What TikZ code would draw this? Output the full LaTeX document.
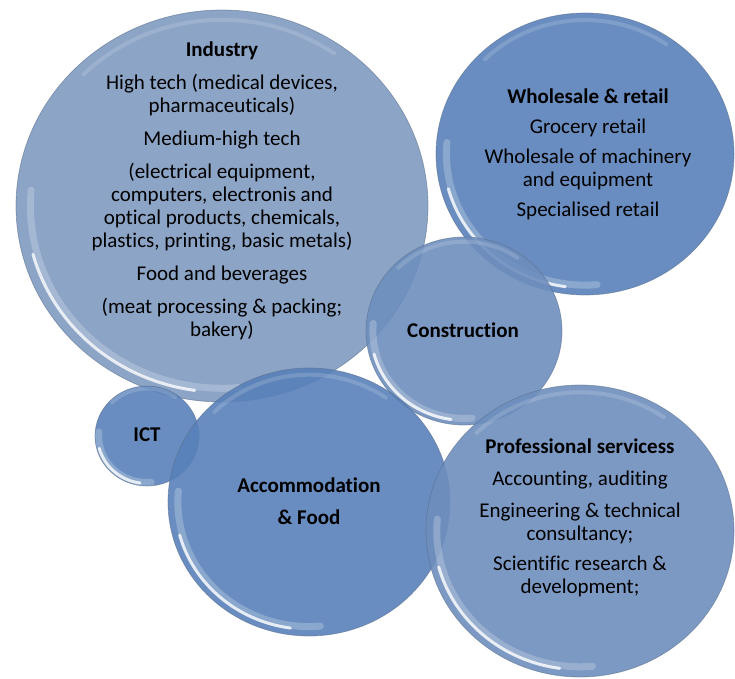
\documentclass[tikz,border=0pt]{standalone}
\usepackage{fontspec}
\setmainfont{Carlito}[Ligatures=NoCommon]
\usepackage{tikz}
\usetikzlibrary{positioning,calc}
\definecolor{bubpale}{RGB}{127,154,192}
\definecolor{bubmid}{RGB}{110,142,189}
\definecolor{bubdeep}{RGB}{89,129,185}
\definecolor{rimgrey}{RGB}{88,108,138}
\tikzset{
  rim/.style   ={draw=rimgrey, line width=0.7pt, draw opacity=0.55},
  haze/.style  ={draw=white, line width=7pt, line cap=round, draw opacity=0.22},
  shine/.style ={draw=white, line width=3pt, line cap=round, draw opacity=0.8},
  gleam/.style ={draw=white, line width=4pt, line cap=round, draw opacity=0.15},
  lbl/.style   ={align=center, font=\fontsize{21}{23}\selectfont, text=black, inner sep=0pt},
  hd/.style    ={lbl, font=\fontsize{21}{23}\selectfont\bfseries},
}
% bubble: name, x, y, x radius, y radius, fill colour
\newcommand{\bubble}[6]{%
  \coordinate (#1) at (#2,#3);
  \pgfmathsetmacro\bubrx{0.95*#4}\pgfmathsetmacro\bubry{0.95*#5}%
  \pgfmathsetmacro\bubrxx{0.93*#4}\pgfmathsetmacro\bubryy{0.93*#5}%
  \fill[#6, fill opacity=0.9] (#1) ellipse [x radius=#4, y radius=#5];
  \draw[haze] (#1) ++(175:\bubrxx\space and \bubryy) arc [start angle=175, end angle=275, x radius=\bubrxx, y radius=\bubryy];
  \draw[shine] (#1) ++(195:\bubrx\space and \bubry) arc [start angle=195, end angle=262, x radius=\bubrx, y radius=\bubry];
  \draw[gleam] (#1) ++(55:\bubrx\space and \bubry) arc [start angle=55, end angle=135, x radius=\bubrx, y radius=\bubry];
  \draw[rim] (#1) ellipse [x radius=#4, y radius=#5];
}

\begin{document}
\begin{tikzpicture}[x=1pt,y=1pt]
\useasboundingbox (0,0) rectangle (735,678);

% bubbles
\bubble{bInd}{222}{472}{206}{196}{bubpale}
\bubble{bWhl}{585}{524}{149}{141}{bubdeep}
\bubble{bCon}{464}{347}{98}{94}{bubmid}
\bubble{bIct}{147}{242}{52}{50}{bubdeep}
\bubble{bAcc}{309}{176}{141}{134}{bubdeep}
\bubble{bPro}{580}{147}{154}{146}{bubmid}

% labels
\node[lbl] (industry) at (222,487) {\textbf{Industry}\\[10pt]
  High tech (medical devices,\\ pharmaceuticals)\\[10pt]
  Medium-high tech\\[10pt]
  (electrical equipment,\\ computers, electronis and\\ optical products, chemicals,\\ plastics, printing, basic metals)\\[10pt]
  Food and beverages\\[10pt]
  (meat processing \& packing;\\ bakery)};
\node[lbl] (wholesale) at (588,524) {\textbf{Wholesale \& retail}\\[7pt]
  Grocery retail\\[7pt]
  Wholesale of machinery\\ and equipment\\[7pt]
  Specialised retail};
\node[hd] (construction) at (463,348) {Construction};
\node[hd] (ict) at (147,243) {ICT};
\node[hd] (accom) at (309,177) {Accommodation\\[9pt] \& Food};
\node[lbl] (profserv) at (580,160) {\textbf{Professional servicess}\\[9pt]
  Accounting, auditing\\[9pt]
  Engineering \& technical\\ consultancy;\\[7pt]
  Scientific research \&\\ development;};
\end{tikzpicture}
\end{document}
